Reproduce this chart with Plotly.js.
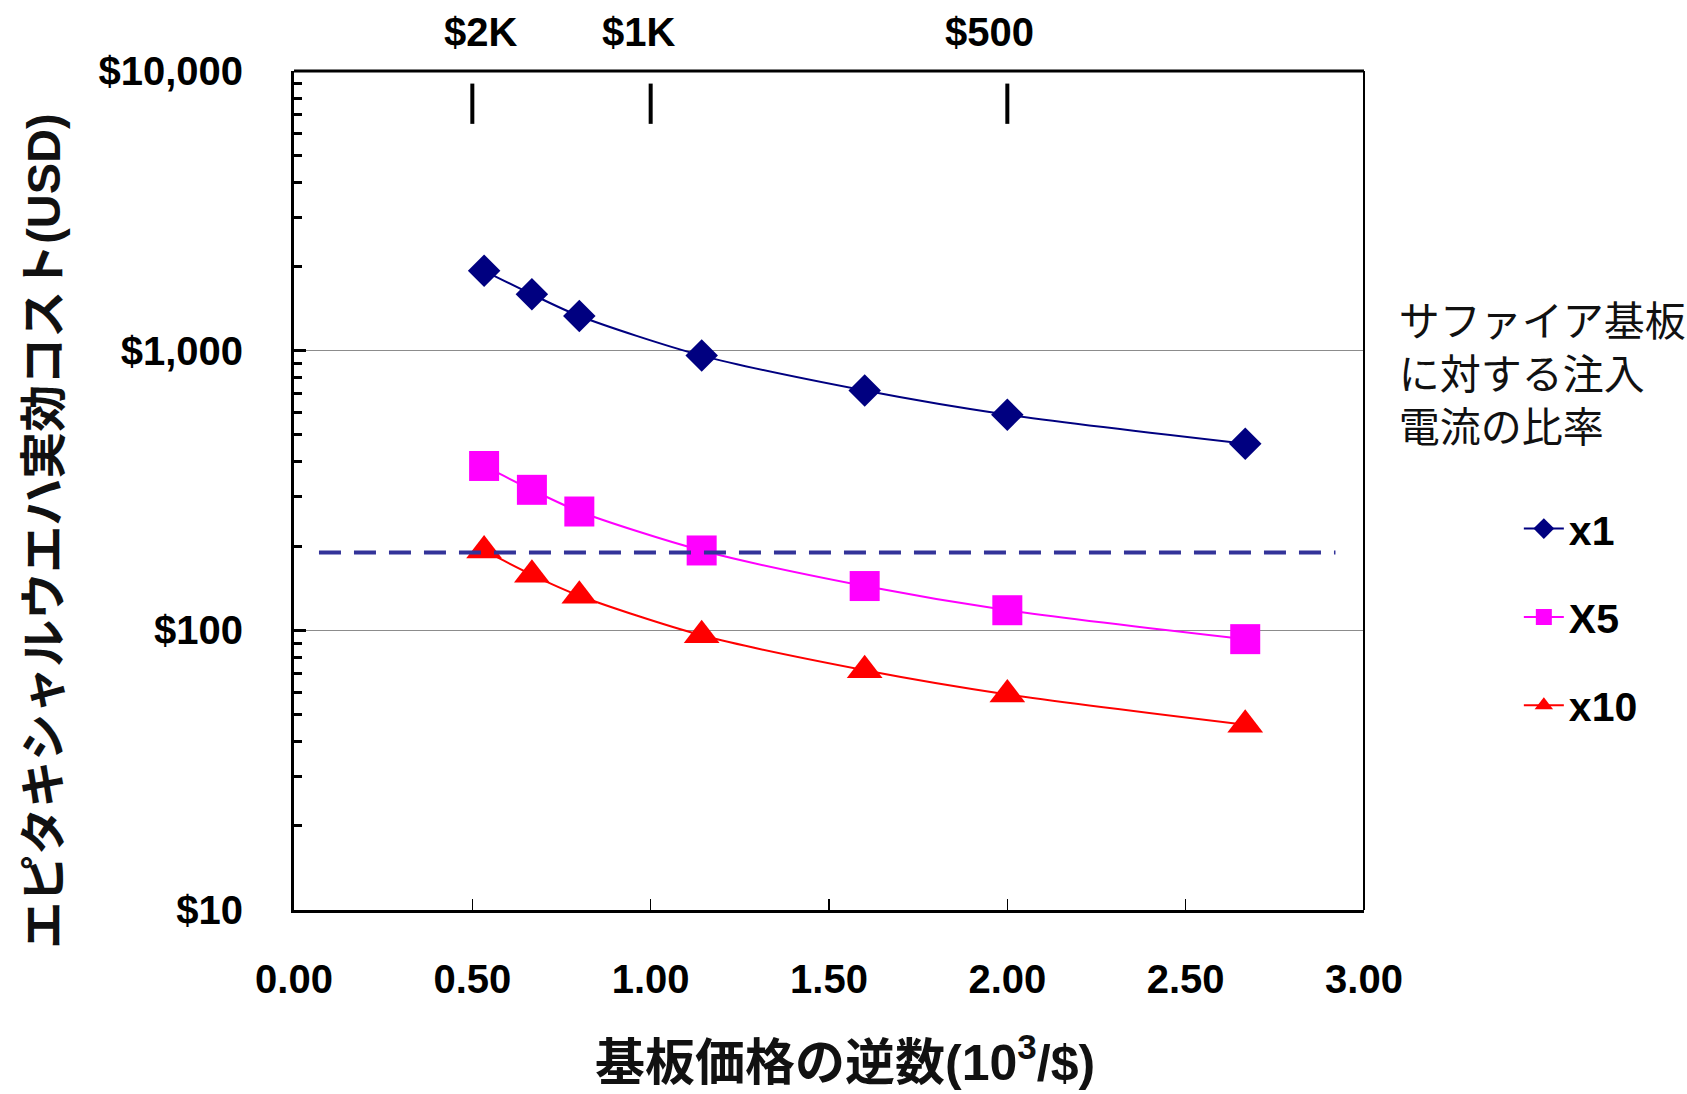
<!DOCTYPE html>
<html>
<head>
<meta charset="utf-8">
<script src="https://cdn.plot.ly/plotly-3.0.1.min.js"></script>
<style>
html,body{margin:0;padding:0;background:#fff;}
#chart{width:1687px;height:1094px;}
</style>
</head>
<body>
<div id="chart"></div>
<script>
// Reciprocal of substrate price (10^3 / $)
const invPrice = [0.533, 0.667, 0.8, 1.143, 1.6, 2.0, 2.667];
// Effective epitaxial wafer cost (USD) per injection-current ratio
const costX1  = [1930, 1590, 1330, 960, 720, 590, 465];
const costX5  = [387, 318, 266, 193, 144, 118, 93];
const costX10 = [193, 158, 133, 96, 72, 59, 46];
const seriesNames = ['x1', 'X5', 'x10'];

// Horizontal dashed reference level
const refLineX = [0.07, 2.92];
const refLineY = [190, 190];

// Substrate price markers along the top
const topTickVals = [0.5, 1.0, 2.0];
const topTickText = ['$2K', '$1K', '$500'];

// Axis ticks
const xTickVals = [0, 0.5, 1.0, 1.5, 2.0, 2.5, 3.0];
const xTickText = ['0.00', '0.50', '1.00', '1.50', '2.00', '2.50', '3.00'];
const yTickVals = [10, 100, 1000, 10000];
const yTickText = ['$10', '$100', '$1,000', '$10,000'];

const LATIN = 'Liberation Sans, Arial, Noto Sans CJK JP, sans-serif';
const CJK = 'Liberation Sans, Noto Sans CJK JP, sans-serif';

const traces = [
  {
    x: invPrice, y: costX1, name: seriesNames[0], legendgroup: 'g1',
    type: 'scatter', mode: 'lines+markers',
    line: {color: '#000080', width: 2, shape: 'spline', smoothing: 0.8},
    marker: {symbol: 'diamond', size: 25, color: '#000080'}
  },
  {
    x: invPrice, y: costX5, name: seriesNames[1], legendgroup: 'g2',
    type: 'scatter', mode: 'lines+markers',
    line: {color: '#FF00FF', width: 2, shape: 'spline', smoothing: 0.8},
    marker: {symbol: 'square', size: 30, color: '#FF00FF'}
  },
  {
    x: invPrice, y: costX10, name: seriesNames[2], legendgroup: 'g3',
    type: 'scatter', mode: 'lines+markers',
    line: {color: '#FF0000', width: 2, shape: 'spline', smoothing: 0.8},
    marker: {symbol: 'triangle-up', size: 31, color: '#FF0000'}
  },
  {
    x: refLineX, y: refLineY, type: 'scatter', mode: 'lines',
    showlegend: false, hoverinfo: 'skip',
    line: {color: '#333399', width: 4, dash: '22px,13px'}
  }
];

const shapes = [
  // top border
  {type: 'line', xref: 'paper', yref: 'paper', x0: 0, x1: 1, y0: 1, y1: 1,
   line: {color: '#000', width: 3}},
  // right border
  {type: 'line', xref: 'paper', yref: 'paper', x0: 1, x1: 1, y0: 0, y1: 1,
   line: {color: '#000', width: 2}}
];
const labelNudge = [8, -12, -18];
const annotations = [
  // y-axis title
  {xref: 'paper', yref: 'paper', x: -0.2336, y: 0.452, textangle: -90,
   text: 'エピタキシャルウエハ実効コスト(USD)', showarrow: false,
   xanchor: 'center', yanchor: 'middle',
   font: {family: CJK, size: 47, color: '#111', weight: 'bold'}},
  // x-axis title
  {xref: 'paper', yref: 'paper', x: 0.515, y: -0.177,
   text: '基板価格の逆数(10<sup>3</sup>/$)', showarrow: false,
   xanchor: 'center', yanchor: 'middle',
   font: {family: CJK, size: 50, color: '#111', weight: 'bold'}}
];
topTickVals.forEach((v, i) => {
  shapes.push({type: 'line', xref: 'x', yref: 'paper', x0: v, x1: v, y0: 0.937, y1: 0.985,
               line: {color: '#000', width: 4}});
  annotations.push({xref: 'x', yref: 'paper', x: v, y: 1.047, text: topTickText[i],
                    xshift: labelNudge[i],
                    showarrow: false, xanchor: 'center', yanchor: 'middle',
                    font: {family: LATIN, size: 40, color: '#000', weight: 'bold'}});
});

const layout = {
  width: 1687, height: 1094,
  margin: {l: 294, r: 323, t: 71, b: 184, autoexpand: false},
  paper_bgcolor: '#fff', plot_bgcolor: '#fff',
  showlegend: true,
  xaxis: {
    range: [0, 3], tickmode: 'array', tickvals: xTickVals, ticktext: xTickText,
    ticks: 'inside', ticklen: 11, tickwidth: 1.5, tickcolor: '#000',
    showline: true, linewidth: 3, linecolor: '#000', mirror: false,
    showgrid: false, zeroline: false,
    tickfont: {family: LATIN, size: 40, color: '#000', weight: 'bold'},
    ticklabelstandoff: 32
  },
  yaxis: {
    type: 'log', range: [1, 4], tickmode: 'array', tickvals: yTickVals, ticktext: yTickText,
    ticks: 'inside', ticklen: 12, tickwidth: 3, tickcolor: '#000',
    minor: {ticks: 'inside', ticklen: 8, tickwidth: 3, tickcolor: '#000', dtick: 'D1', showgrid: false},
    showline: true, linewidth: 3, linecolor: '#000', mirror: false,
    showgrid: true, gridcolor: '#8c8c8c', gridwidth: 1.5, zeroline: false,
    tickfont: {family: LATIN, size: 40, color: '#000', weight: 'bold'},
    ticklabelstandoff: 40
  },
  legend: {
    xref: 'container', yref: 'container',
    x: 0.828, xanchor: 'left', y: 0.742, yanchor: 'top',
    bgcolor: 'rgba(0,0,0,0)', borderwidth: 0,
    title: {text: 'サファイア基板<br>に対する注入<br>電流の比率<br> ', side: 'top',
            font: {family: CJK, size: 41, color: '#111', weight: 'normal'}},
    font: {family: LATIN, size: 41, color: '#000', weight: 'bold'},
    tracegroupgap: 32, indentation: 122, itemwidth: 40
  },
  shapes: shapes,
  annotations: annotations
};

Plotly.newPlot('chart', traces, layout, {displayModeBar: false, staticPlot: true});
</script>
</body>
</html>
